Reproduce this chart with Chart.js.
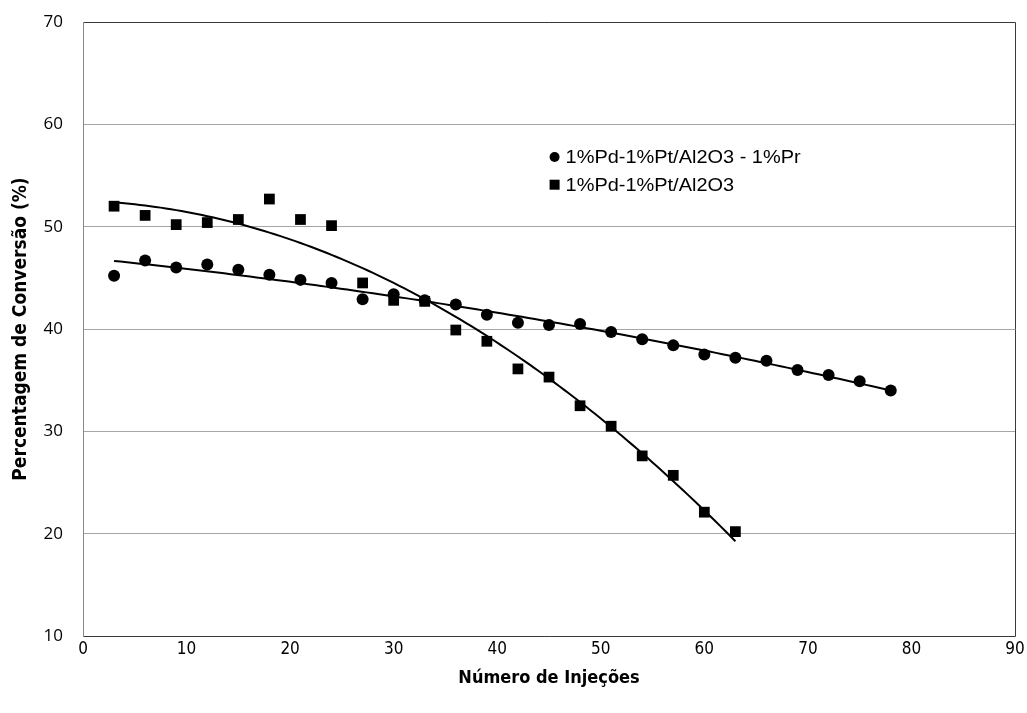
<!DOCTYPE html>
<html>
<head>
<meta charset="utf-8">
<script src="https://cdn.jsdelivr.net/npm/chart.js@4.4.1/dist/chart.umd.min.js"></script>
<style>
html,body{margin:0;padding:0;background:#fff;}
#wrap{width:1027px;height:713px;}
</style>
</head>
<body>
<div id="wrap"><canvas id="c" width="1027" height="713"></canvas></div>
<script>
// ---- data ----
const injPr = [3,6,9,12,15,18,21,24,27,30,33,36,39,42,45,48,51,54,57,60,63,66,69,72,75,78];
const convPr = [45.2,46.7,46.0,46.3,45.8,45.3,44.8,44.5,42.9,43.4,42.8,42.4,41.4,40.6,40.4,40.5,39.7,39.0,38.4,37.5,37.2,36.9,36.0,35.5,34.9,34.0];
const injPt = [3,6,9,12,15,18,21,24,27,30,33,36,39,42,45,48,51,54,57,60,63];
const convPt = [52.0,51.1,50.2,50.4,50.7,52.7,50.7,50.1,44.5,42.8,42.7,39.9,38.8,36.1,35.3,32.5,30.5,27.6,25.7,22.1,20.2];
const labelPr = '1%Pd-1%Pt/Al2O3 - 1%Pr';
const labelPt = '1%Pd-1%Pt/Al2O3';
const xTitle = 'Número de Injeções';
const yTitle = 'Percentagem de Conversão (%)';

// quadratic least-squares trendline (as the spreadsheet's polynomial trendline)
function polyFit2(xs, ys){
  let n=xs.length,s1=0,s2=0,s3=0,s4=0,t0=0,t1=0,t2=0;
  for(let i=0;i<n;i++){const x=xs[i],y=ys[i];s1+=x;s2+=x*x;s3+=x*x*x;s4+=x*x*x*x;t0+=y;t1+=x*y;t2+=x*x*y;}
  const A=[[n,s1,s2,t0],[s1,s2,s3,t1],[s2,s3,s4,t2]];
  for(let i=0;i<3;i++){
    for(let k=i+1;k<3;k++){const f=A[k][i]/A[i][i];for(let j=i;j<4;j++)A[k][j]-=f*A[i][j];}
  }
  const c=[0,0,0];
  for(let i=2;i>=0;i--){let s=A[i][3];for(let j=i+1;j<3;j++)s-=A[i][j]*c[j];c[i]=s/A[i][i];}
  return c;
}
function trend(xs, ys){
  const c=polyFit2(xs,ys); const out=[];
  const x0=xs[0], x1=xs[xs.length-1];
  for(let k=0;k<=120;k++){const x=x0+(x1-x0)*k/120; out.push({x:x,y:c[0]+c[1]*x+c[2]*x*x});}
  return out;
}

const ptsPr = injPr.map((x,i)=>({x:x,y:convPr[i]}));
const ptsPt = injPt.map((x,i)=>({x:x,y:convPt[i]}));

const NARROW = '"Liberation Sans Narrow","DejaVu Sans Condensed","Roboto Condensed",Arial,sans-serif';

const borderPlugin = {
  id:'borderPlugin',
  afterDraw(chart){
    const a=chart.chartArea, ctx=chart.ctx;
    ctx.save();
    ctx.strokeStyle='#3a3a3a'; ctx.lineWidth=1;
    ctx.beginPath();
    ctx.moveTo(a.left, a.top+0.5); ctx.lineTo(a.right+0.5, a.top+0.5);
    ctx.lineTo(a.right+0.5, a.bottom+0.5); ctx.lineTo(a.left, a.bottom+0.5);
    ctx.stroke();
    ctx.strokeStyle='#888'; ctx.beginPath();
    ctx.moveTo(a.left+0.5, a.top); ctx.lineTo(a.left+0.5, a.bottom+1); ctx.stroke();
    // legend
    const lx = a.left + (a.right-a.left)*0.506, ly1 = a.top + (a.bottom-a.top)*0.220, ly2 = a.top + (a.bottom-a.top)*0.265;
    ctx.fillStyle='#000';
    ctx.beginPath(); ctx.arc(lx, ly1, 5, 0, Math.PI*2); ctx.fill();
    ctx.fillRect(lx-5, ly2-5, 10, 10);
    ctx.font='17px "Liberation Sans", Arial, sans-serif';
    ctx.textBaseline='middle'; ctx.textAlign='left';
    const tw = ctx.measureText(labelPr).width;
    const sx = 235/tw;
    ctx.save(); ctx.translate(lx+11, ly1+1); ctx.scale(sx, 1.08); ctx.fillText(labelPr, 0, 0); ctx.restore();
    ctx.save(); ctx.translate(lx+11, ly2+1); ctx.scale(sx, 1.08); ctx.fillText(labelPt, 0, 0); ctx.restore();
    ctx.restore();
  }
};

new Chart(document.getElementById('c'), {
  type:'scatter',
  data:{datasets:[
    {label:labelPr, data:ptsPr, pointStyle:'circle', pointRadius:6, pointHoverRadius:6, backgroundColor:'#000', borderColor:'#000', borderWidth:0, order:1},
    {label:labelPt, data:ptsPt, pointStyle:'rect', pointRadius:7.6, pointHoverRadius:7.6, backgroundColor:'#000', borderColor:'#000', borderWidth:0, order:0},
    {label:'trendPr', data:trend(injPr,convPr), showLine:true, pointRadius:0, borderColor:'#000', borderWidth:2, fill:false, order:2},
    {label:'trendPt', data:trend(injPt,convPt), showLine:true, pointRadius:0, borderColor:'#000', borderWidth:2, fill:false, order:2}
  ]},
  options:{
    responsive:false, animation:false,
    layout:{padding:{top:22,right:12,left:0,bottom:0}},
    plugins:{legend:{display:false}, tooltip:{enabled:false}},
    scales:{
      x:{type:'linear', min:0, max:90,
        ticks:{stepSize:10, color:'#000', padding:3, font:{family:NARROW, size:17}},
        grid:{display:false, drawTicks:false},
        border:{display:false},
        title:{display:true, text:xTitle, color:'#000', padding:{top:4,bottom:24}, font:{family:NARROW, size:18, weight:'bold'}},
        afterFit(s){ s.height = 77; s.paddingLeft = 0; s.paddingRight = 0; }
      },
      y:{type:'linear', min:10, max:70,
        ticks:{stepSize:10, color:'#000', padding:20, font:{family:'"Open Sans","Liberation Sans",sans-serif', size:17}},
        grid:{color:'#a6a6a6', lineWidth:1, drawTicks:false},
        border:{display:false},
        title:{display:true, text:yTitle, color:'#000', padding:{top:10,bottom:4}, font:{family:NARROW, size:19, weight:'bold'}},
        afterFit(s){ s.width = 83; s.paddingTop = 0; s.paddingBottom = 0; }
      }
    }
  },
  plugins:[borderPlugin]
});
</script>
</body>
</html>
